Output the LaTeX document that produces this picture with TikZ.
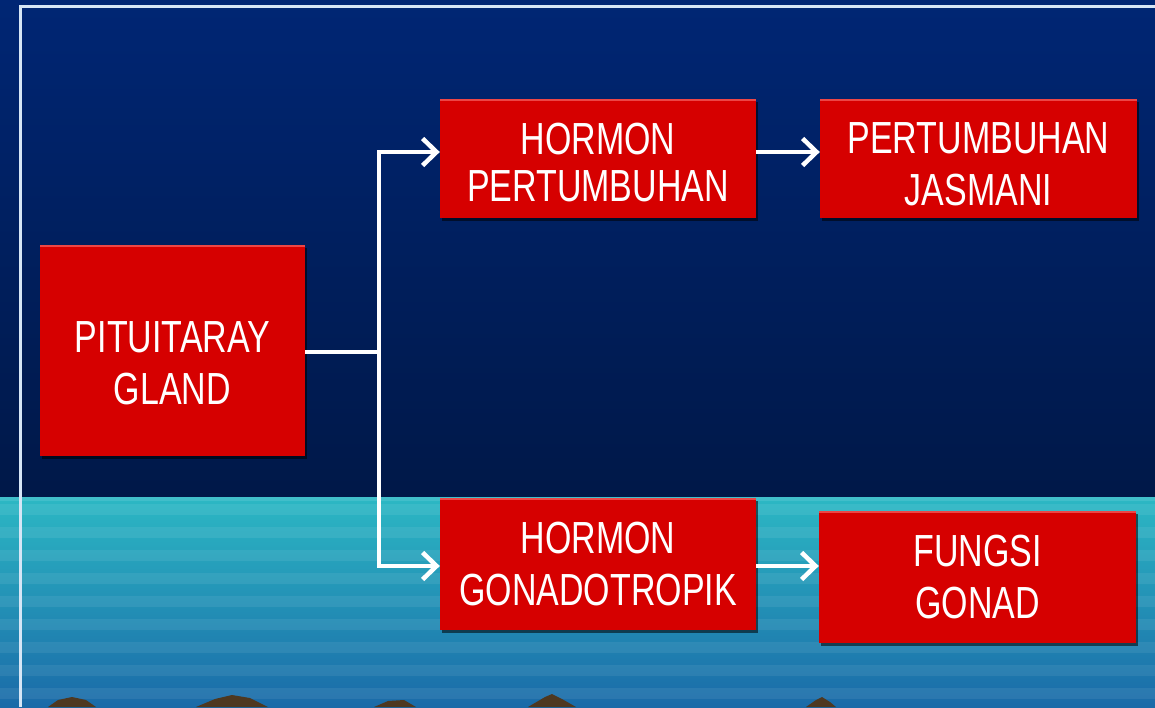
\documentclass[tikz,border=0pt]{standalone}
\usepackage{fontspec}
\setmainfont{Liberation Sans}
\newfontfamily\boxfont[FakeStretch=0.755]{Liberation Sans}
\usetikzlibrary{arrows.meta,shadows}
\definecolor{skytop}{RGB}{0,38,116}
\definecolor{skybot}{RGB}{0,24,72}
\definecolor{seaA}{RGB}{44,184,196}
\definecolor{seaB}{RGB}{32,144,187}
\definecolor{seaC}{RGB}{26,106,168}
\definecolor{boxred}{RGB}{214,0,0}
\definecolor{boxhi}{RGB}{236,70,70}
\definecolor{framecol}{RGB}{214,230,246}
\definecolor{rock}{RGB}{78,56,32}
\newcommand{\topstrut}[1]{\rule{0pt}{#1}}
\tikzset{
  redbox/.style={rectangle, fill=boxred, text=white, align=center, inner sep=0pt,
    font=\boxfont\fontsize{45}{52}\selectfont,
    drop shadow={shadow xshift=2pt, shadow yshift=-3pt, opacity=0.55, fill=black},
    path picture={\draw[boxhi, line width=2pt]
      ([yshift=-1pt]path picture bounding box.north west) -- ([yshift=-1pt]path picture bounding box.north east);}},
  link/.style={draw=white, line width=4.5pt},
  arr/.style={link, -{Straight Barb[length=14pt,width=27pt]}},
}
\begin{document}
\begin{tikzpicture}[x=1pt,y=-1pt]
\useasboundingbox (0,0) rectangle (1155,707);
\clip (0,0) rectangle (1155,707);
% background
\shade[top color=skytop, bottom color=skybot] (0,0) rectangle (1155,497);
\shade[top color=seaA, middle color=seaB, bottom color=seaC] (0,497) rectangle (1155,707);
\foreach \i in {0,...,9}
  \fill[white, opacity=0.07] (0,{504+\i*23}) rectangle (1155,{515+\i*23});
\fill[seaA!80!white, opacity=0.5] (0,497) rectangle (1155,501);
% rocks
\fill[rock] (48,707) -- (58,700) -- (72,697) -- (86,700) -- (96,707) -- cycle;
\fill[rock] (196,707) -- (215,699) -- (232,695) -- (250,698) -- (268,707) -- cycle;
\fill[rock] (374,707) -- (388,701) -- (404,700) -- (416,707) -- cycle;
\fill[rock] (528,707) -- (545,697) -- (552,694) -- (562,699) -- (576,707) -- cycle;
\fill[rock] (806,707) -- (816,700) -- (822,697) -- (830,702) -- (836,707) -- cycle;
% frame
\draw[framecol, line width=3pt] (20,707) -- (20,6.5) -- (1155,6.5);
% boxes
\node[redbox, minimum width=265pt, minimum height=211pt] (pit) at (172.5,350.5) {\topstrut{57pt}PITUITARAY\\GLAND};
\node[redbox, minimum width=316pt, minimum height=119pt, font=\boxfont\fontsize{45}{47}\selectfont] (hp) at (598,158.5) {\topstrut{40pt}HORMON\\PERTUMBUHAN};
\node[redbox, minimum width=317pt, minimum height=119pt] (pj) at (978.5,158.5) {\topstrut{43pt}PERTUMBUHAN\\JASMANI};
\node[redbox, minimum width=316pt, minimum height=132pt] (hg) at (598,564) {HORMON\\GONADOTROPIK};
\node[redbox, minimum width=317pt, minimum height=132pt] (fg) at (977.5,576.5) {FUNGSI\\GONAD};
% connectors
\coordinate (j) at (379,352);
\coordinate (jt) at (379,152);
\coordinate (jb) at (379,566);
\draw[link] (pit.east |- j) -- (j);
\draw[link, line cap=rect] (jt) -- (jb);
\draw[arr] (jt) -- (jt -| hp.west);
\draw[arr] (jb) -- (jb -| hg.west);
\draw[arr] (hp.east |- jt) -- (pj.west |- jt);
\draw[arr] (hg.east |- jb) -- (fg.west |- jb);
\end{tikzpicture}
\end{document}
